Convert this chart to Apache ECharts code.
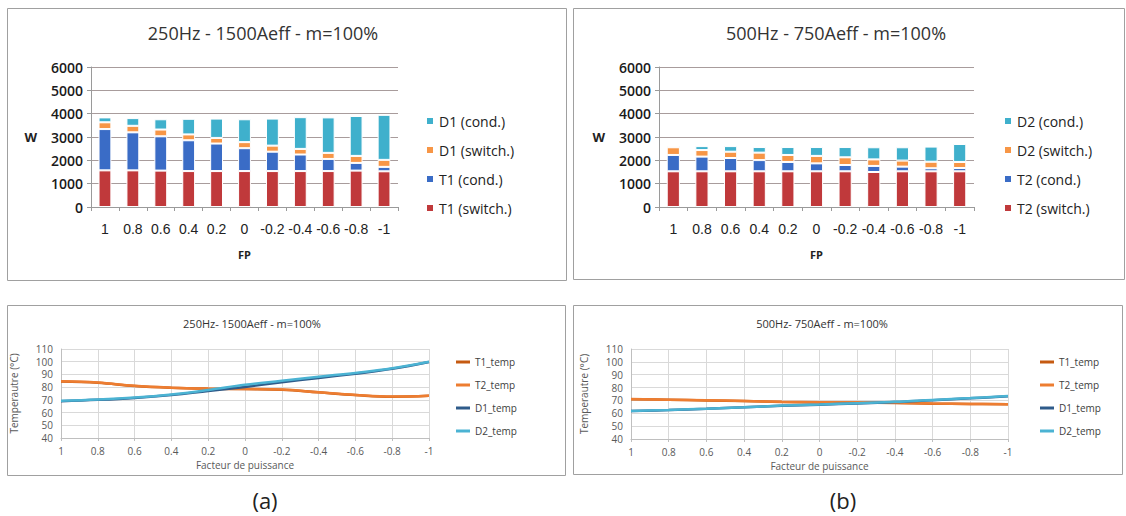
<!DOCTYPE html>
<html><head><meta charset="utf-8">
<script src="https://cdn.jsdelivr.net/npm/echarts@6/dist/echarts.min.js"></script>
<style>html,body{margin:0;padding:0;background:#fff}#c{width:1126px;height:516px}</style>
</head><body><div id="c"></div>
<script>
// ---- data ----
const categories = ['1','0.8','0.6','0.4','0.2','0','-0.2','-0.4','-0.6','-0.8','-1'];
// panel (a) losses, W (stacked segments)
const t1Switch = [1570,1570,1560,1540,1540,1540,1540,1540,1540,1560,1530];
const t1Cond   = [1770,1630,1470,1320,1180,980,830,710,520,330,190];
const d1Switch = [290,280,290,250,240,260,260,240,260,300,300];
const d1Cond   = [210,330,440,670,830,980,1160,1360,1520,1710,1930];
// panel (b) losses, W
const t2Switch = [1530,1530,1530,1530,1530,1530,1530,1500,1530,1530,1530];
const t2Cond   = [700,630,570,480,400,340,270,260,200,130,140];
const d2Switch = [330,280,270,320,300,320,330,280,260,280,260];
const d2Cond   = [60,170,240,240,340,380,440,520,570,650,770];
// temperatures (a)
const t1TempA = [84.4,83.4,80.9,79.5,78.8,78.5,78.0,75.9,73.8,72.5,73.2];
const t2TempA = [84.6,83.6,81.0,79.6,78.9,78.6,78.1,76.0,73.9,72.6,73.3];
const d1TempA = [69.0,70.0,71.5,73.8,77.0,80.2,83.8,87.2,90.6,94.4,99.8];
const d2TempA = [69.2,70.2,71.8,74.3,77.8,81.8,85.0,88.2,91.2,94.8,100.0];
// temperatures (b)
const t1TempB = [71.0,70.5,70.0,69.5,68.8,68.5,68.3,68.0,67.5,67.2,67.0];
const t2TempB = [71.1,70.6,70.1,69.6,68.9,68.6,68.4,68.1,67.6,67.3,67.1];
const d1TempB = [61.7,62.5,63.5,64.6,65.8,66.7,67.7,68.7,70.2,71.6,73.3];
const d2TempB = [61.8,62.6,63.6,64.7,66.0,66.9,67.9,68.9,70.4,71.8,73.5];
const yTicksW = [0,1000,2000,3000,4000,5000,6000];
const yTicksT = [40,50,60,70,80,90,100,110];

// ---- styles ----
const F = 'Open Sans, Liberation Sans, sans-serif';
const FL = 'Liberation Sans, Arial, sans-serif';
const C = {red:'#c0393b', blue:'#3a6cc6', orange:'#f79646', cyan:'#3fb0cc',
  t1:'#c55a11', t2:'#ed7d31', d1:'#2e5b8a', d2:'#4bb3d3'};

const chart = echarts.init(document.getElementById('c'), null, {renderer:'svg'});

function barX(gi){return {gridIndex:gi,type:'category',data:categories,
  axisLine:{lineStyle:{color:'#9a9a9a'}},axisTick:{show:true,length:4,lineStyle:{color:'#9a9a9a'}},
  axisLabel:{interval:0,fontFamily:FL,fontSize:14,color:'#222',margin:15,fontWeight:500},
  name:'FP',nameLocation:'middle',nameGap:42,nameTextStyle:{fontFamily:F,fontSize:11,fontWeight:'bold',color:'#222'}};}
function barY(gi){return {gridIndex:gi,type:'value',min:yTicksW[0],max:yTicksW[yTicksW.length-1],interval:1000,
  axisLine:{show:true,lineStyle:{color:'#9a9a9a'}},axisTick:{show:true,length:4,lineStyle:{color:'#9a9a9a'}},
  splitLine:{lineStyle:{color:'#a89c9c',width:1}},
  axisLabel:{fontFamily:F,fontSize:14,color:'#1a1a1a',margin:8,fontWeight:600,formatter:v=>String(v)},
  name:'W',nameLocation:'middle',nameRotate:0,nameGap:54,nameTextStyle:{fontFamily:F,fontSize:13,fontWeight:'bold',color:'#222'}};}
function lineX(gi){return {gridIndex:gi,type:'category',data:categories,boundaryGap:false,
  axisLine:{lineStyle:{color:'#bfbfbf'}},axisTick:{show:true,length:3,lineStyle:{color:'#bfbfbf'}},
  splitLine:{show:true,lineStyle:{color:'#d9d9d9'}},
  axisLabel:{interval:0,fontFamily:F,fontSize:10,color:'#595959',margin:8},
  name:'Facteur de puissance',nameLocation:'middle',nameGap:22,nameTextStyle:{fontFamily:F,fontSize:10,color:'#595959'}};}
function lineY(gi){return {gridIndex:gi,type:'value',min:yTicksT[0],max:yTicksT[yTicksT.length-1],interval:10,
  axisLine:{show:true,lineStyle:{color:'#bfbfbf'}},axisTick:{show:false},
  splitLine:{lineStyle:{color:'#d9d9d9'}},
  axisLabel:{fontFamily:F,fontSize:10,color:'#595959',margin:8},
  name:'Temperautre (°C)',nameLocation:'middle',nameGap:42,nameTextStyle:{fontFamily:F,fontSize:10,color:'#595959'}};}

function bar(name,data,gi,stack,color){return {name,type:'bar',data,xAxisIndex:gi,yAxisIndex:gi,stack,barWidth:'46%',
  itemStyle:{color,borderColor:'#fff',borderWidth:1},emphasis:{disabled:true}};}
function line(name,data,gi,color){return {name,type:'line',data,xAxisIndex:gi,yAxisIndex:gi,smooth:0.4,symbol:'none',
  lineStyle:{color,width:2.5},itemStyle:{color},emphasis:{disabled:true}};}

const legendText = {fontFamily:F,fontSize:14,color:'#222',lineHeight:16};
const legendTextS = {fontFamily:F,fontSize:10,color:'#404040',lineHeight:12};

chart.setOption({
  animation:false,
  grid:[
    {left:91,top:67,width:307,height:140},
    {left:659,top:67,width:315,height:140},
    {left:61,top:349,width:368,height:89},
    {left:631,top:349,width:377,height:90}
  ],
  xAxis:[barX(0),barX(1),lineX(2),lineX(3)],
  yAxis:[barY(0),barY(1),lineY(2),lineY(3)],
  legend:[
    {orient:'vertical',left:420,top:108,icon:'rect',itemWidth:8,itemHeight:8,itemGap:13,textStyle:legendText,
      data:['D1 (cond.)','D1 (switch.)','T1 (cond.)','T1 (switch.)']},
    {orient:'vertical',left:998,top:108,icon:'rect',itemWidth:8,itemHeight:8,itemGap:13,textStyle:legendText,
      data:['D2 (cond.)','D2 (switch.)','T2 (cond.)','T2 (switch.)']},
    {orient:'vertical',left:451,top:351,icon:'rect',itemWidth:14,itemHeight:3,itemGap:11,textStyle:legendTextS,
      data:['T1_temp','T2_temp','D1_temp','D2_temp']},
    {orient:'vertical',left:1035,top:351,icon:'rect',itemWidth:14,itemHeight:3,itemGap:11,textStyle:legendTextS,
      data:['T1_temp','T2_temp','D1_temp','D2_temp']}
  ],
  series:[
    bar('T1 (switch.)',t1Switch,0,'a',C.red),
    bar('T1 (cond.)',t1Cond,0,'a',C.blue),
    bar('D1 (switch.)',d1Switch,0,'a',C.orange),
    bar('D1 (cond.)',d1Cond,0,'a',C.cyan),
    bar('T2 (switch.)',t2Switch,1,'b',C.red),
    bar('T2 (cond.)',t2Cond,1,'b',C.blue),
    bar('D2 (switch.)',d2Switch,1,'b',C.orange),
    bar('D2 (cond.)',d2Cond,1,'b',C.cyan),
    line('T1_temp',t1TempA,2,C.t1),
    line('T2_temp',t2TempA,2,C.t2),
    line('D1_temp',d1TempA,2,C.d1),
    line('D2_temp',d2TempA,2,C.d2),
    line('T1_temp',t1TempB,3,C.t1),
    line('T2_temp',t2TempB,3,C.t2),
    line('D1_temp',d1TempB,3,C.d1),
    line('D2_temp',d2TempB,3,C.d2)
  ],
  graphic:[
    {type:'rect',shape:{x:7.5,y:8.5,width:559,height:272},style:{fill:'none',stroke:'#a0a0a0',lineWidth:1},silent:true,z:-1},
    {type:'rect',shape:{x:573.5,y:8.5,width:551,height:271},style:{fill:'none',stroke:'#a0a0a0',lineWidth:1},silent:true,z:-1},
    {type:'rect',shape:{x:7.5,y:305.5,width:558,height:170},style:{fill:'none',stroke:'#a0a0a0',lineWidth:1},silent:true,z:-1},
    {type:'rect',shape:{x:573.5,y:305.5,width:549,height:169},style:{fill:'none',stroke:'#a0a0a0',lineWidth:1},silent:true,z:-1},
    {type:'text',x:263,y:33,style:{text:'250Hz - 1500Aeff - m=100%',font:'18px '+F,fill:'#333',align:'center',verticalAlign:'middle'}},
    {type:'text',x:836,y:33,style:{text:'500Hz - 750Aeff - m=100%',font:'18px '+F,fill:'#333',align:'center',verticalAlign:'middle'}},
    {type:'text',x:252,y:323,style:{text:'250Hz- 1500Aeff - m=100%',font:'11px '+F,fill:'#333',align:'center',verticalAlign:'middle'}},
    {type:'text',x:822,y:323,style:{text:'500Hz- 750Aeff - m=100%',font:'11px '+F,fill:'#333',align:'center',verticalAlign:'middle'}},
    {type:'text',x:265,y:500,style:{text:'(a)',font:'22px '+F,fill:'#222',align:'center',verticalAlign:'middle'}},
    {type:'text',x:843,y:500,style:{text:'(b)',font:'22px '+F,fill:'#222',align:'center',verticalAlign:'middle'}}
  ]
});
</script></body></html>
